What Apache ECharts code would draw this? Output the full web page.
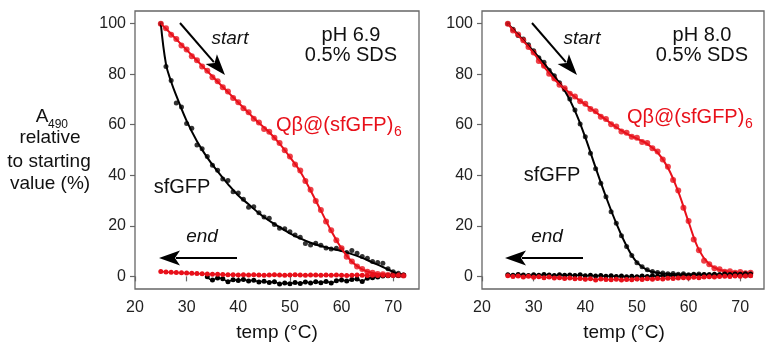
<!DOCTYPE html>
<html><head><meta charset="utf-8">
<script src="https://cdn.jsdelivr.net/npm/echarts@6/dist/echarts.min.js"></script>
<style>html,body{margin:0;padding:0;background:#fff}#c{width:765px;height:346px}</style>
</head><body><div id="c"></div>
<script>
// temperatures of measured points (°C)
const T = [25,26,27,28,29,30,31,32,33,34,35,36,37,38,39,40,41,42,43,44,45,46,47,48,49,50,51,52,53,54,55,56,57,58,59,60,61,62,63,64,65,66,67,68,69,70,71,72];
// temperatures of fitted curves
const fitT = [25,26,27,28,30,32,34,36,38,40,42,44,46,48,50,52,54,56,58,60,62,64,66,68,70,72];

// ---- pH 6.9 panel ----
const L_sf_heat = [100,83,77.5,68.6,67,60.5,58.6,52,50.5,47.4,44,42,38.5,37.9,33.5,33,30.5,27.3,27.5,25.2,23.5,23,20.5,19,18.8,17.7,16.4,15.5,13,12.4,13.1,12.3,11.2,10.8,11.1,10.6,9.4,10.2,9.1,7.9,7.2,5.9,5.5,5.2,3.0,1.8,1.2,0.4];
const L_sf_fit = [100,84,77,71.5,61.5,53.5,47,41.5,36.5,32,28.5,25,22,19.5,17,15,13.3,12,11,10,8.8,7.3,5.5,3.7,1.8,0.5];
const L_qb_heat = [100,98.2,95.6,93.9,91.3,89.8,87.1,85.5,83.0,81.4,78.8,77.2,74.8,73.1,70.6,68.9,66.5,64.9,62.4,60.9,58.3,57.2,54.8,52.8,49.9,47.4,44.3,41.9,37.7,34.3,29.8,26.3,21.7,18.2,14.3,11.1,7.8,5.9,3.9,2.9,1.8,1.4,0.9,0.8,0.5,0.6,0.4,0.3];
const L_qb_fit = [100,98,95.9,93.8,89.6,85.4,81.2,77,72.9,68.8,64.7,60.7,57,52.5,47.2,41.5,34,26,18,11,5.8,2.8,1.3,0.7,0.5,0.3];
const L_sf_cool = [null,null,null,null,null,null,null,null,null,-0.2,-1.4,-0.6,-0.9,-2.1,-1.3,-1.6,-1.2,-1.8,-1.5,-2.2,-1.9,-2.4,-2.1,-3.0,-2.6,-2.9,-2.4,-2.8,-2.2,-2.6,-2.1,-2.5,-2.0,-2.6,-1.7,-1.4,-1.8,-1.2,-1.0,-2.0,-0.7,-0.5,-0.3,0.1,0.2,0.4,0.3,0.5];
const L_qb_cool = [1.9,1.7,1.6,1.5,1.4,1.3,1.2,1.1,1.0,0.9,0.8,0.8,0.7,0.6,0.6,0.5,0.6,0.5,0.6,0.5,0.4,0.5,0.6,0.5,0.4,0.5,0.6,0.5,0.4,0.5,0.5,0.4,0.5,0.4,0.5,0.4,0.3,0.4,0.5,0.4,0.3,0.4,0.3,0.4,0.3,0.3,0.4,0.3];

// ---- pH 8.0 panel ----
const R_sf_heat = [100,97.8,95.3,93.9,91.6,89.3,86.5,84.7,81.6,79.4,76.6,73.9,70.2,65.8,60.3,55.2,48.7,42.6,36.8,31.5,25.6,21.0,16.1,11.8,8.3,5.4,3.8,2.6,1.9,1.5,1.3,1.0,1.1,0.8,1.0,0.6,0.8,0.9,0.5,0.7,0.4,0.6,0.5,0.3,0.5,0.4,0.2,0.3];
const R_sf_fit = [100,97.8,95.6,93.4,89,84.3,79.2,73.5,65.5,55,43,31.5,21,12,5.5,2.5,1.4,1.0,0.8,0.7,0.7,0.6,0.5,0.5,0.4,0.3];
const R_qb_heat = [100,97.3,95.7,93.4,90.8,88.6,85.2,83.3,80.2,78.3,75.8,74.4,72.3,71.2,69.3,68.3,66.2,65.3,63.2,62.3,60.2,59.3,57.3,56.8,55.2,54.8,53.2,52.8,50.7,49.4,46.2,43.4,38.1,34.0,27.1,21.9,14.6,10.3,6.2,4.8,3.2,2.8,1.8,2.0,1.4,1.7,1.2,1.4];
const R_qb_fit = [100,97.5,95.3,93.2,88.3,83,78,74.2,71,68,65,62,59,56.5,54.5,52.4,49,43,33.5,21.5,10.5,4.8,2.6,1.8,1.5,1.2];
const R_sf_cool = [0.6,0.4,0.7,0.5,0.3,0.6,0.4,0.7,0.5,0.3,0.6,0.4,0.5,0.3,0.6,0.2,0.4,0.1,0.3,0.0,0.2,-0.1,0.1,-0.2,0.0,-0.2,0.1,-0.1,0.2,0.0,0.3,0.1,0.4,0.2,0.5,0.3,0.6,0.4,0.7,0.5,0.8,0.6,0.9,0.7,0.9,0.8,1.0,0.9];
const R_qb_cool = [0.2,-0.1,0.1,-0.3,0.0,-0.4,-0.2,-0.5,-0.3,-0.6,-0.5,-0.8,-0.6,-0.9,-0.8,-1.1,-0.9,-1.4,-1.0,-1.2,-1.3,-1.1,-1.4,-1.2,-1.3,-1.0,-1.2,-0.9,-1.1,-0.8,-1.0,-0.7,-0.8,-0.6,-0.5,-0.6,-0.4,-0.5,-0.3,-0.2,-0.3,-0.1,0.0,-0.1,0.1,0.0,0.1,0.2];

// axis ticks
const xTicks = [20,30,40,50,60,70];
const yTicks = [0,20,40,60,80,100];

const RED = '#e8101a', BLACK = '#000';
const FONT = '"Liberation Sans", Arial, Helvetica, sans-serif';

function pairs(xs, ys){ return xs.map((x,i)=>[x, ys[i]]).filter(p=>p[1]!=null); }

function xAxisCfg(gi, max){
  return {type:'value', gridIndex:gi, min:20, max:max,
    axisLine:{show:false}, splitLine:{show:false},
    axisTick:{show:true, customValues:xTicks, length:5, lineStyle:{color:'#666', width:1.2}},
    axisLabel:{customValues:xTicks, fontSize:16, color:'#222', fontFamily:FONT, margin:11}};
}
function yAxisCfg(gi){
  return {type:'value', gridIndex:gi, min:-5, max:105,
    axisLine:{show:false}, splitLine:{show:false},
    axisTick:{show:true, customValues:yTicks, length:5, lineStyle:{color:'#666', width:1.2}},
    axisLabel:{customValues:yTicks, fontSize:16, color:'#222', fontFamily:FONT, margin:9}};
}
function fitLine(gi, ys, color){
  return {type:'line', xAxisIndex:gi, yAxisIndex:gi, data:pairs(fitT, ys), smooth:0.4,
    showSymbol:false, lineStyle:{color:color, width:2}, silent:true, animation:false};
}
function dots(gi, ys, color, size){
  return {type:'scatter', xAxisIndex:gi, yAxisIndex:gi, data:pairs(T, ys), symbol:'circle',
    symbolSize:size, itemStyle:{color:color}, silent:true, animation:false};
}
function coolLine(gi, ys, color, size){
  return {type:'line', xAxisIndex:gi, yAxisIndex:gi, data:pairs(T, ys), smooth:0.6,
    symbol:'circle', symbolSize:size, itemStyle:{color:color}, lineStyle:{color:color, width:1.5},
    silent:true, animation:false};
}

function txt(x, y, s, size, color, opt){
  opt = opt || {};
  return {type:'text', style:{text:s, x:x, y:y, fill:color||'#111',
    font:(opt.italic?'italic ':'')+size+'px '+FONT, align:opt.align||'center', verticalAlign:'middle'}};
}
function arrow(x1,y1,x2,y2){
  const dx=x2-x1, dy=y2-y1, L=Math.sqrt(dx*dx+dy*dy), ux=dx/L, uy=dy/L, nx=-uy, ny=ux;
  const hl=21, hw=7.5, bx=x2-hl*ux, by=y2-hl*uy;
  return [
    {type:'line', shape:{x1:x1,y1:y1,x2:bx+4*ux,y2:by+4*uy}, style:{stroke:'#000', lineWidth:2}},
    {type:'polygon', shape:{points:[[x2,y2],[bx+hw*nx,by+hw*ny],[bx+5*ux,by+5*uy],[bx-hw*nx,by-hw*ny]]}, style:{fill:'#000'}}
  ];
}

const graphics = [].concat(
  [txt(42,117,'A',19), txt(48,125,'490',12,'#111',{align:'left'})],
  [txt(50,138,'relative',19), txt(49,162,'to starting',19), txt(50,184,'value (%)',19)],
  [txt(277,333,'temp (°C)',19), txt(624,333,'temp (°C)',19)],
  [txt(351,35,'pH 6.9',20), txt(351,55,'0.5% SDS',20), txt(702,35,'pH 8.0',20), txt(702,55,'0.5% SDS',20)],
  [txt(182,187,'sfGFP',20), txt(552,175,'sfGFP',20)],
  [txt(276,125,'Qβ@(sfGFP)',20,RED,{align:'left'}), txt(394,132,'6',14,RED,{align:'left'}),
   txt(627,117,'Qβ@(sfGFP)',20,RED,{align:'left'}), txt(745,124,'6',14,RED,{align:'left'})],
  [txt(230,39,'start',19,'#111',{italic:true}), txt(582,39,'start',19,'#111',{italic:true}),
   txt(202,237,'end',19,'#111',{italic:true}), txt(547,237,'end',19,'#111',{italic:true})],
  arrow(180,23,225,75), arrow(532,23,577,75), arrow(237,258,159,258), arrow(583,258,505,258)
);

const chart = echarts.init(document.getElementById('c'), null, {renderer:'canvas'});
chart.setOption({
  backgroundColor:'#fff',
  animation:false,
  grid:[
    {left:135, top:11, width:284, height:278, show:true, borderColor:'#666', borderWidth:1.3, backgroundColor:'transparent'},
    {left:482, top:11, width:282, height:278, show:true, borderColor:'#666', borderWidth:1.3, backgroundColor:'transparent'}
  ],
  xAxis:[xAxisCfg(0,75), xAxisCfg(1,74.6)],
  yAxis:[yAxisCfg(0), yAxisCfg(1)],
  series:[
    coolLine(0, L_sf_cool, BLACK, 5),
    coolLine(0, L_qb_cool, RED, 5),
    fitLine(0, L_sf_fit, BLACK), dots(0, L_sf_heat, BLACK, 5),
    fitLine(0, L_qb_fit, RED), dots(0, L_qb_heat, RED, 6),
    coolLine(1, R_sf_cool, BLACK, 5),
    coolLine(1, R_qb_cool, RED, 5),
    fitLine(1, R_sf_fit, BLACK), dots(1, R_sf_heat, BLACK, 5),
    fitLine(1, R_qb_fit, RED), dots(1, R_qb_heat, RED, 6)
  ],
  graphic:graphics
});
</script></body></html>
